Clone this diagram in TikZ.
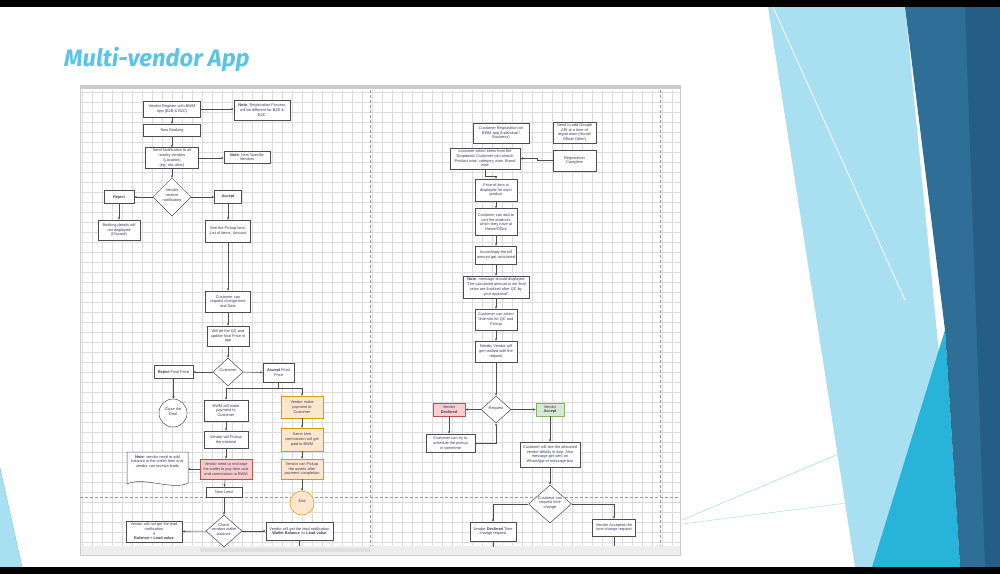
\documentclass[tikz,border=0pt]{standalone}
\usepackage{fontspec}
\setmainfont{Liberation Sans}
\newfontfamily\titlefont{Fira Sans}
\usetikzlibrary{arrows.meta,shapes.geometric}
\definecolor{txt}{HTML}{3A3A60}
\definecolor{bdr}{HTML}{4D4D4D}
\definecolor{ttl}{HTML}{5BC4E6}
\definecolor{gridc}{HTML}{DCDCDC}
\definecolor{pinkf}{HTML}{F8CECC}
\definecolor{pinkd}{HTML}{B85450}
\definecolor{orf}{HTML}{FFE6CC}
\definecolor{ord}{HTML}{D79B00}
\definecolor{grf}{HTML}{D5E8D4}
\definecolor{grd}{HTML}{82B366}
\definecolor{lcyan}{HTML}{A8DFF1}
\definecolor{dblue}{HTML}{2E6E97}
\definecolor{ddblue}{HTML}{255E84}
\definecolor{bcyan}{HTML}{27B4D8}
\newcommand\fs{\fontsize{3.9}{4.7}\selectfont}
\newcommand\zb[1]{\makebox[0pt]{\smash{\begin{tabular}{@{}c@{}}#1\end{tabular}}}}
\begin{document}
\begin{tikzpicture}[x=1pt,y=-1pt,
 box/.style={draw=bdr, line width=0.5pt, fill=white, align=center, font=\fs, text=txt, inner sep=0.3pt},
 pbox/.style={box, draw=pinkd, fill=pinkf},
 obox/.style={box, draw=ord, fill=orf},
 gbox/.style={box, draw=grd, fill=grf},
 dia/.style={diamond, draw=bdr, line width=0.5pt, fill=white, font=\fs, text=txt, inner sep=0pt},
 circ/.style={circle, draw=bdr, line width=0.5pt, fill=white, font=\fs, text=txt, inner sep=0pt},
 arr/.style={draw=bdr, line width=0.5pt, -{Stealth[length=2.6pt,width=2.2pt]}},
 ln/.style={draw=bdr, line width=0.5pt},
 sep/.style={draw=black!40, line width=0.6pt, dash pattern=on 3pt off 2pt}
]
\useasboundingbox (0,0) rectangle (1000,574);
% slide background
\fill[white] (0,0) rectangle (1000,574);
% right decoration
\fill[lcyan] (768,7) -- (905,7) -- (960,567) -- (855,567) -- cycle;
\draw[white, line width=0.8pt] (773,7) -- (905,300);
\fill[bcyan] (945,330) -- (960,567) -- (872,567) -- cycle;
\fill[dblue] (905,7) -- (1000,7) -- (1000,567) -- (960,567) -- (945,330) -- cycle;
\fill[ddblue] (965,7) -- (1000,7) -- (1000,567) -- (985,567) -- cycle;
\draw[lcyan, line width=0.6pt] (682,520) -- (860,445);
\draw[lcyan, line width=0.5pt] (682,524) -- (870,500);
% left-bottom decoration
\fill[lcyan] (0,468) -- (22,567) -- (0,567) -- cycle;
\draw[bcyan!60, line width=0.5pt] (0,468) -- (22,567);
% black bars
\fill[black] (0,0) rectangle (1000,7);
\fill[black] (0,567) rectangle (1000,574);
% title
\node[anchor=base west, font=\titlefont\itshape\bfseries\fontsize{23.8}{28}\selectfont, text=ttl, inner sep=0pt] (title) at (64,66) {Multi-vendor App};
% diagram canvas
\fill[white] (80,85) rectangle (680,555);
\foreach \x in {82,92,...,672} \draw[gridc, line width=0.35pt] (\x,90) -- (\x,546);
\foreach \y in {92,102,...,542} \draw[gridc, line width=0.35pt] (80,\y) -- (680,\y);
\fill[black!20] (80,85) rectangle (680,89);
\fill[black!7] (80,546) rectangle (680,555);
\fill[black!12] (200,548) rectangle (370,552);
\draw[black!20, line width=0.4pt] (80,85) rectangle (680,555);
\draw[sep] (370,90) -- (370,546);
\draw[sep] (660,90) -- (660,546);
\draw[sep] (80,497) -- (680,497);

% ---------- left flow ----------
\node[box, minimum width=57, minimum height=16] (n1) at (172,109) {Vendor Register with BWM\\App (B2B \& B2C)};
\node[box, minimum width=56, minimum height=20] (note1) at (262,110) {\textbf{Note}: Registration Process\\will be different for B2B \&\\B2C};
\node[box, minimum width=57, minimum height=12] (n2) at (172,130) {New Booking};
\node[box, minimum width=53, minimum height=21] (n3) at (172,158) {Send Notification to all\\nearby vendors\\(Location)\\(eg. ola, uber)};
\node[box, minimum width=46, minimum height=12] (note2) at (247,157) {\textbf{Note}: Item Specific\\Vendors};
\node[dia, minimum width=38, minimum height=38] (d1) at (172,197) {\zb{Vendor\\receive\\notification}};
\node[box, minimum width=30, minimum height=13] (rej) at (119,197) {\textbf{Reject}};
\node[box, minimum width=27, minimum height=13] (acc) at (228,197) {\textbf{Accept}};
\node[box, minimum width=42, minimum height=20] (bd) at (119,230) {Booking details will\\not displayed\\(Discard)};
\node[box, minimum width=45, minimum height=22] (see) at (228,231) {See the Pickup time,\\List of items, Amount};
\node[box, minimum width=45, minimum height=21] (cr) at (228,301.5) {Customer can\\request change time\\and Date};
\node[box, minimum width=42, minimum height=20] (qc) at (228,336) {Will do the QC and\\update final Price in\\app};
\node[dia, minimum width=30, minimum height=28] (d2) at (228,372) {\zb{Customer}};
\node[box, minimum width=39, minimum height=13] (rfp) at (173.5,372) {\textbf{Reject} Final Price};
\node[box, minimum width=31, minimum height=19] (afp) at (278.5,372.5) {\textbf{Accept} Final\\Price};
\node[circ, minimum size=28] (close) at (173,413) {\zb{Close the\\Deal}};
\node[box, minimum width=44, minimum height=21] (bwm) at (226,410.5) {BWM will make\\payment to\\Customer};
\node[box, minimum width=44, minimum height=17] (vp) at (226,439.5) {Vendor will Pickup\\the material};
\node[pbox, minimum width=52, minimum height=20] (pink) at (226,469) {Vendor need to recharge\\the wallet to pay Item cost\\and commission to BWM};
\draw[bdr, line width=0.5pt, fill=white] (127,452) -- (188,452) -- (188,483) .. controls (173,491) and (143,476) .. (127,484) -- cycle;
\coordinate (n3e) at (188,469);
\node[font=\fs, text=txt, align=center, inner sep=0pt, anchor=north] (note3) at (157.5,455) {\textbf{Note}: vendor need to add\\balance in the wallet then only\\vendor can receive leads};
\node[box, minimum width=36, minimum height=10] (nl) at (224,492) {New Lead};
\node[obox, minimum width=42, minimum height=22] (o1) at (302,407) {Vendor make\\payment to\\Customer};
\node[obox, minimum width=42, minimum height=23] (o2) at (302,439.5) {Same time\\commission will get\\paid to BWM};
\node[obox, minimum width=42, minimum height=20] (o3) at (302,469) {Vendor can Pickup\\the assets after\\payment completion};
\node[circ, draw=ord, fill=orf, minimum size=24] (endc) at (302,503) {\zb{End}};
\node[dia, minimum width=36, minimum height=32] (d3) at (224,531) {\zb{Check\\vendors wallet\\balance}};
\node[box, minimum width=56, minimum height=21] (lb) at (154,531.5) {Vendor will not get the lead\\notification\\if\\\textbf{Balance < Lead value}};
\node[box, minimum width=67, minimum height=18] (rb) at (299.5,531) {Vendor will get the lead notification\\\textbf{Wallet Balance >= Lead value}};

\draw[arr] (n1) -- (note1.west |- n1);
\draw[arr] (n1) -- (n2);
\draw[arr] (n2) -- (n3);
\draw[arr] (n3) -- (note2.west |- n3);
\draw[arr] (n3) -- (d1);
\draw[arr] (d1) -- (rej);
\draw[arr] (d1) -- (acc);
\draw[arr] (rej) -- (bd);
\draw[arr] (acc) -- (see);
\draw[arr] (see) -- (cr);
\draw[arr] (cr) -- (qc);
\draw[arr] (qc) -- (d2);
\draw[arr] (d2) -- (rfp);
\draw[arr] (d2) -- (afp);
\draw[arr] (rfp.south) -- (rfp.south |- close.north);
\coordinate (sp) at (278.5,388);
\draw[ln] (afp.south) -- (sp);
\draw[arr] (sp) -| (bwm.north);
\draw[arr] (sp) -| (o1.north);
\draw[arr] (bwm) -- (vp);
\draw[arr] (vp) -- (pink);
\draw[arr] (pink) -- (nl);
\draw[arr] (pink.west) -- (n3e);
\draw[arr] (o1) -- (o2);
\draw[arr] (o2) -- (o3);
\draw[arr] (o3) -- (endc);
\draw[arr] (nl) -- (d3);
\draw[arr] (d3) -- (lb);
\draw[arr] (d3) -- (rb);
\draw[ln] (rb.south) -- ++(0,6);

% ---------- right flow ----------
\node[box, minimum width=56, minimum height=20] (creg) at (501,133) {Customer Registration on\\BWM app (Individual /\\Business)};
\node[box, minimum width=43, minimum height=21] (gapi) at (574.5,132.5) {Need to add Google\\API at a time of\\registration (Home/\\Office/ Other)};
\node[box, minimum width=70, minimum height=21] (sel) at (485,158.5) {customer select items from the\\Dropdown/ Customer can search\\Product wise, category wise, Brand\\wise};
\node[box, minimum width=43, minimum height=21] (rc) at (574.5,160.5) {Registration\\Complete};
\node[box, minimum width=42, minimum height=22] (price) at (496,190) {Price of item is\\displayed for each\\product};
\node[box, minimum width=42, minimum height=27] (cart) at (496,222) {Customer can add to\\cart the products\\which they have at\\Home/Office};
\node[box, minimum width=41, minimum height=18] (bill) at (496,255) {Accordingly the bill\\amount get calculated};
\node[box, minimum width=66, minimum height=22] (note4) at (496,287) {\textbf{Note}: message should displayed\\"The calculated amount is not final\\rates are finalized after QC by\\your approval"};
\node[box, minimum width=42, minimum height=21] (slot) at (496,319.5) {Customer can select\\time slot for QC and\\Pickup};
\node[box, minimum width=42, minimum height=21] (near) at (496,351.5) {Nearby Vendor will\\get notified with the\\request};
\node[dia, minimum width=30, minimum height=27] (req) at (496,409.5) {\zb{Request}};
\node[pbox, minimum width=32, minimum height=13] (decl) at (449,409.5) {Vendor\\\textbf{Declined}};
\node[gbox, minimum width=28, minimum height=13] (acc2) at (550,409.5) {Vendor\\\textbf{Accept}};
\node[box, minimum width=49, minimum height=18] (try) at (450.5,443) {Customer can try to\\schedule the pickup\\in sometime};
\node[box, minimum width=60, minimum height=25] (see2) at (550,454.5) {Customer will see the allocated\\vendor details in app. Also\\message get sent  on\\WhatsApp or message box};
\node[dia, minimum width=43, minimum height=38] (d5) at (550,504) {\zb{Customer can\\request time\\change}};
\node[box, minimum width=46, minimum height=19] (dtime) at (493,531.5) {Vendor \textbf{Declined} Time\\change request};
\node[box, minimum width=43, minimum height=17] (atime) at (614,527.5) {Vendor Accepted the\\time change request};

\draw[arr] (rc.west) -- ++(-16,0) |- (sel.east);
\draw[arr] (sel.south) -- ++(0,7) -| (price.north);
\draw[arr] (price) -- (cart);
\draw[arr] (cart) -- (bill);
\draw[arr] (bill) -- (note4);
\draw[arr] (note4) -- (slot);
\draw[arr] (slot) -- (near);
\draw[arr] (near) -- (req);
\draw[arr] (req) -- (decl);
\draw[arr] (req) -- (acc2);
\draw[arr] (decl.south) -- (decl.south |- try.north);
\draw[arr] (try.east) -| (req.south);
\draw[arr] (acc2.south) -- (acc2.south |- see2.north);
\draw[arr] (see2) -- (d5);
\draw[arr] (d5.west) -| (dtime.north);
\draw[arr] (d5.east) -| (atime.north);
\draw[ln] (dtime.south) -- ++(0,6);
\draw[ln] (atime.south) -- ++(0,10);
\end{tikzpicture}
\end{document}
